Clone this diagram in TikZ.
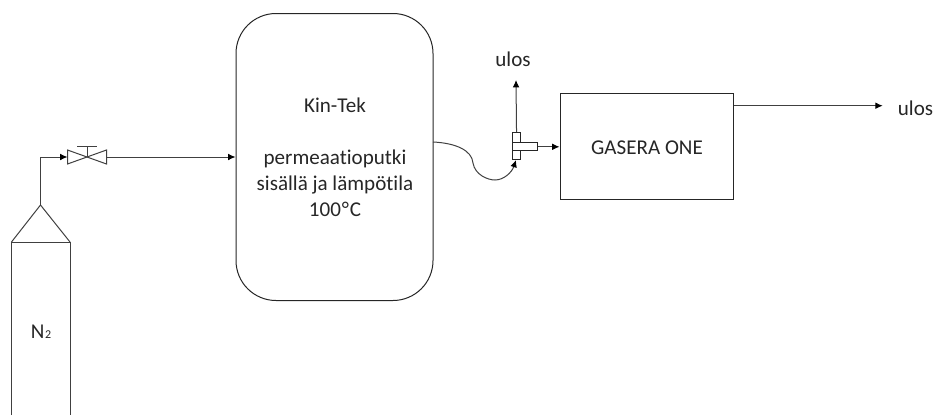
\documentclass[tikz,border=0pt]{standalone}
\usepackage{fontspec}
\setmainfont[Ligatures=CommonOff]{Carlito}
\usetikzlibrary{arrows.meta}
\tikzset{
  pipe/.style={draw=black!75,line width=0.75pt},
  flow/.style={pipe,-{Latex[length=5.5pt,width=5pt,black]}},
  lab/.style={font=\fontsize{15.8pt}{19.5pt}\selectfont,text=black!85,align=center,inner sep=0pt},
}
\begin{document}
\begin{tikzpicture}[x=0.75pt,y=-0.75pt]
\useasboundingbox (0,0) rectangle (936,415);
% big vessel
\node[pipe,draw=black!85,rounded corners=30pt,minimum width=147.75pt,minimum height=215.25pt,inner sep=0pt,anchor=north west] (kin) at (235.5,13) {};
\node[lab] (kintxt) at (335,157) {Kin-Tek\\[19.5pt]permeaatioputki\\sisällä ja lämpötila\\100\kern0.6pt°\kern0.6pt C};
% analyser
\node[pipe,draw=black!85,minimum width=130.35pt,minimum height=79.5pt,inner sep=0pt,anchor=north west] (gasera) at (559.5,92.8) {};
\node[lab] (gaseratxt) at (647,148) {GASERA ONE};
% cylinder
\coordinate (apex) at (40.5,205);
\coordinate (bl) at (11.5,242);
\coordinate (br) at (70,242);
\coordinate (blb) at (11.5,415);
\coordinate (brb) at (70,415);
\draw[pipe] (bl) -- (apex) -- (br);
\draw[pipe] (blb) -- (bl) -- (br) -- (brb);
\node[lab] (n2) at (41,332) {N{\fontsize{9pt}{9pt}\selectfont\kern0.5pt 2}};
% valve
\coordinate (vl) at (67.5,157);
\coordinate (vr) at (106.5,157);
\coordinate (vc) at (87,157);
\draw[pipe,fill=white] (vl) ++(0,-7) -- ++(0,14) -- (vc) -- cycle;
\draw[pipe,fill=white] (vr) ++(0,-7) -- ++(0,14) -- (vc) -- cycle;
\coordinate (vt) at (87,146);
\draw[pipe] (vc) -- (vt);
\draw[pipe] (77,146) -- (96.5,146);
\draw[flow] (apex) -- (40.5,157) -- (vl);
\draw[flow] (vr) -- (kin.west |- vr);
% tee
\node[pipe,draw=black!85,minimum width=6.5pt,minimum height=20pt,inner sep=0pt,anchor=north west] (teev) at (511.7,132) {};
\node[pipe,draw=black!85,fill=white,minimum width=19.2pt,minimum height=6pt,inner sep=0pt,anchor=north west] (teeh) at (511.7,142.3) {};
\draw[draw=white,line width=1pt] (511.7,143) -- (511.7,149.6);
\coordinate (up) at (516,80);
\draw[flow] (teev.north) -- (up);
\node[lab] (ulos1) at (513,59) {ulos};
\draw[flow] (teeh.east) -- (gasera.west |- teeh.east);
\draw[pipe,-{Latex[length=5.5pt,width=5pt,black]}] (433,142) .. controls (455,143) and (472,150) .. (473,163) .. controls (475,175) and (488,180) .. (495,180) .. controls (504,180) and (512,172) .. (516,160);
% outlet
\coordinate (out) at (882.7,105.7);
\draw[flow] (gasera.east |- out) -- (out);
\node[lab] (ulos2) at (915.5,108.5) {ulos};
\end{tikzpicture}
\end{document}
